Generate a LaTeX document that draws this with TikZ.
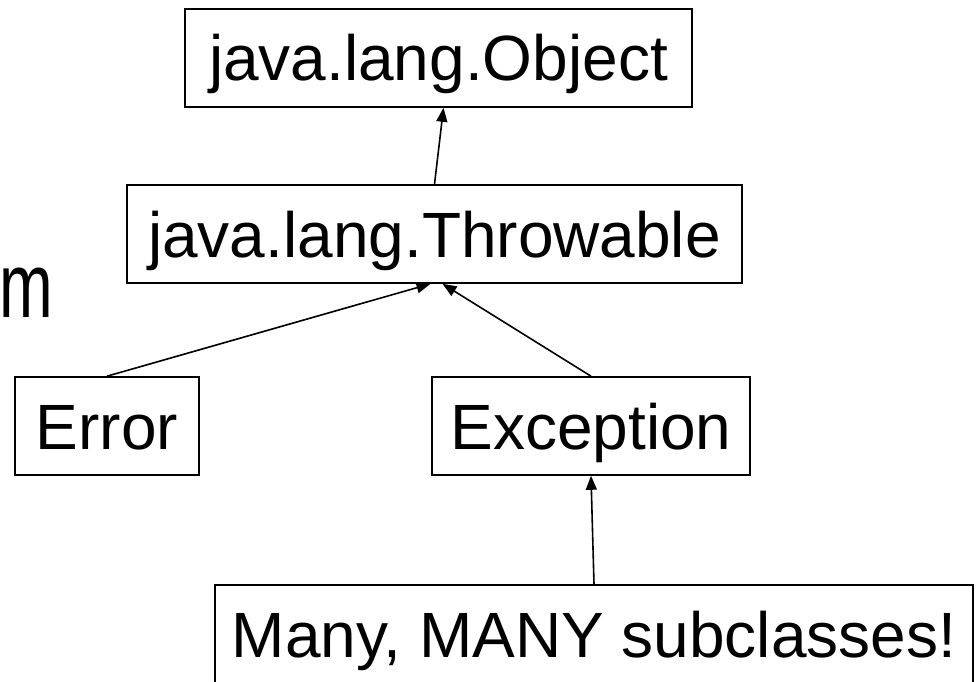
\documentclass[tikz,border=0pt]{standalone}
\usepackage{fontspec}
\setmainfont{Liberation Sans}
\usetikzlibrary{arrows.meta}

\tikzset{
  cls/.style={draw=black, line width=1.6pt, fill=white, inner sep=0pt,
    minimum height=98pt, text height=46pt, text depth=0pt,
    font=\fontsize{64}{70}\selectfont},
  inherit/.style={draw=black, line width=1.6pt,
    -{Triangle[length=14pt,width=11pt]}}
}

\begin{document}
\begin{tikzpicture}[x=1pt, y=-1pt]
  \useasboundingbox (0,0) rectangle (978,682);
  \clip (0,0) rectangle (978,682);

  % stray slide text at the left edge
  \node[anchor=base west, inner sep=0pt, font=\fontsize{92}{100}\selectfont] (frag) at (-1,317) {\scalebox{0.7}[1]{m}};

  % class boxes
  \node[cls, minimum width=507pt] (obj) at (438.5,58) {java.lang.Object};
  \node[cls, minimum width=615pt] (thr) at (434.5,234) {java.lang.Throwable};
  \node[cls, minimum width=184pt] (err) at (107,426) {Error};
  \node[cls, minimum width=318pt] (exc) at (591,426) {Exception};
  \node[cls, minimum width=758pt] (many) at (594,634) {Many, MANY subclasses!};

  % inheritance arrows
  \draw[inherit] (thr.north) -- ([xshift=5pt]obj.south);
  \draw[inherit] (err.north) -- ([xshift=-4pt]thr.south);
  \draw[inherit] (exc.north) -- ([xshift=8pt]thr.south);
  \draw[inherit] (many.north) -- (exc.south);
\end{tikzpicture}
\end{document}
